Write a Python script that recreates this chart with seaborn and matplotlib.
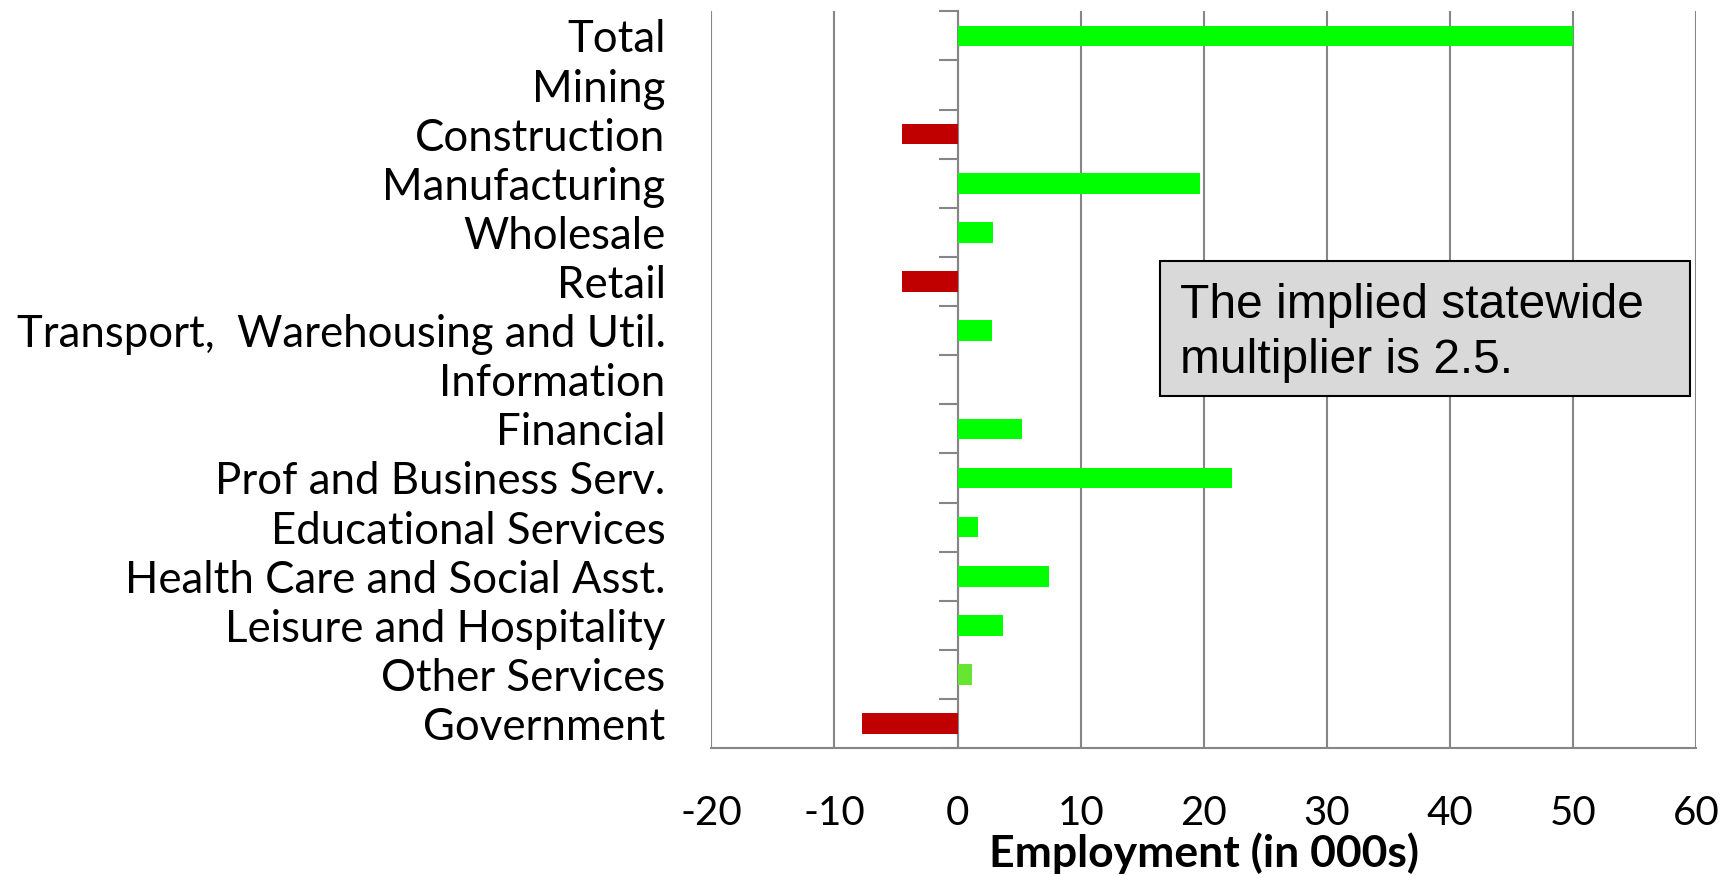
import pandas as pd
import matplotlib
matplotlib.use('Agg')
import matplotlib.pyplot as plt
from matplotlib.patches import Rectangle
import seaborn as sns

# employment change by sector (thousands)
sectors = ['Total', 'Mining', 'Construction', 'Manufacturing', 'Wholesale', 'Retail',
           'Transport,  Warehousing and Util.', 'Information', 'Financial',
           'Prof and Business Serv.', 'Educational Services', 'Health Care and Social Asst.',
           'Leisure and Hospitality', 'Other Services', 'Government']
change = [50.0, 0.0, -4.5, 19.7, 2.9, -4.5, 2.8, 0.0, 5.2, 22.3, 1.7, 7.4, 3.7, 1.2, -7.8]
bar_colors = ['#00FF00', '#00FF00', '#C00000', '#00FF00', '#00FF00', '#C00000', '#00FF00',
              '#00FF00', '#00FF00', '#00FF00', '#00FF00', '#00FF00', '#00FF00', '#66E633',
              '#C00000']
x_ticks = [-20, -10, 0, 10, 20, 30, 40, 50, 60]
note = 'The implied statewide\nmultiplier is 2.5.'

GRAY = '#868686'

sns.set_style('white')
plt.rcParams['font.family'] = ['Lato', 'DejaVu Sans']
plt.rcParams['text.color'] = 'black'
plt.rcParams['axes.labelcolor'] = 'black'
plt.rcParams['xtick.labelcolor'] = 'black'
plt.rcParams['ytick.labelcolor'] = 'black'

df = pd.DataFrame({'sector': sectors, 'change': change})

fig = plt.figure(figsize=(17.35, 8.75), dpi=100)
ax = fig.add_axes([0.41, 0.145, 0.5676, 0.842])

sns.barplot(data=df, x='change', y='sector', hue='sector', palette=bar_colors,
            orient='h', width=0.42, legend=False, ax=ax, saturation=1, linewidth=0)

ax.set_xlim(-20, 60)
ax.set_ylim(len(sectors) - 0.5, -0.5)
ax.set_xticks(x_ticks)
ax.set_xticklabels([str(t) for t in x_ticks], fontsize=29)
ax.set_xlabel('Employment (in 000s)', fontsize=32, fontweight='bold', labelpad=0)
ax.set_ylabel('')
ax.tick_params(axis='y', length=0, labelsize=31.5, pad=33, labelcolor='black')
ax.tick_params(axis='x', direction='out', length=15, width=1.5, color=GRAY, pad=19,
               labelcolor='black')

ax.set_axisbelow(True)
ax.grid(axis='x', color=GRAY, linewidth=1.5)
ax.grid(axis='y', visible=False)
for s in ['top', 'right', 'left']:
    ax.spines[s].set_visible(False)
ax.spines['bottom'].set_color(GRAY)
ax.spines['bottom'].set_linewidth(1.5)

# category axis drawn at x = 0 with boundary ticks
sec = ax.secondary_yaxis(0.25)
sec.set_yticks([i - 0.5 for i in range(len(sectors) + 1)])
sec.set_yticklabels([])
sec.tick_params(direction='out', length=14, width=1.5, color=GRAY)
sec.spines['left'].set_color(GRAY)
sec.spines['left'].set_linewidth(1.5)

# note box
fig.patches.append(Rectangle((0.6686, 0.5474), 0.3054, 0.1543, transform=fig.transFigure,
                             facecolor='#D9D9D9', edgecolor='black', linewidth=1.5))
fig.text(0.68, 0.677, note, fontsize=34.5, family='Liberation Sans', va='top', ha='left',
         linespacing=1.3, color='black')

fig.savefig('out.png', dpi=100)
